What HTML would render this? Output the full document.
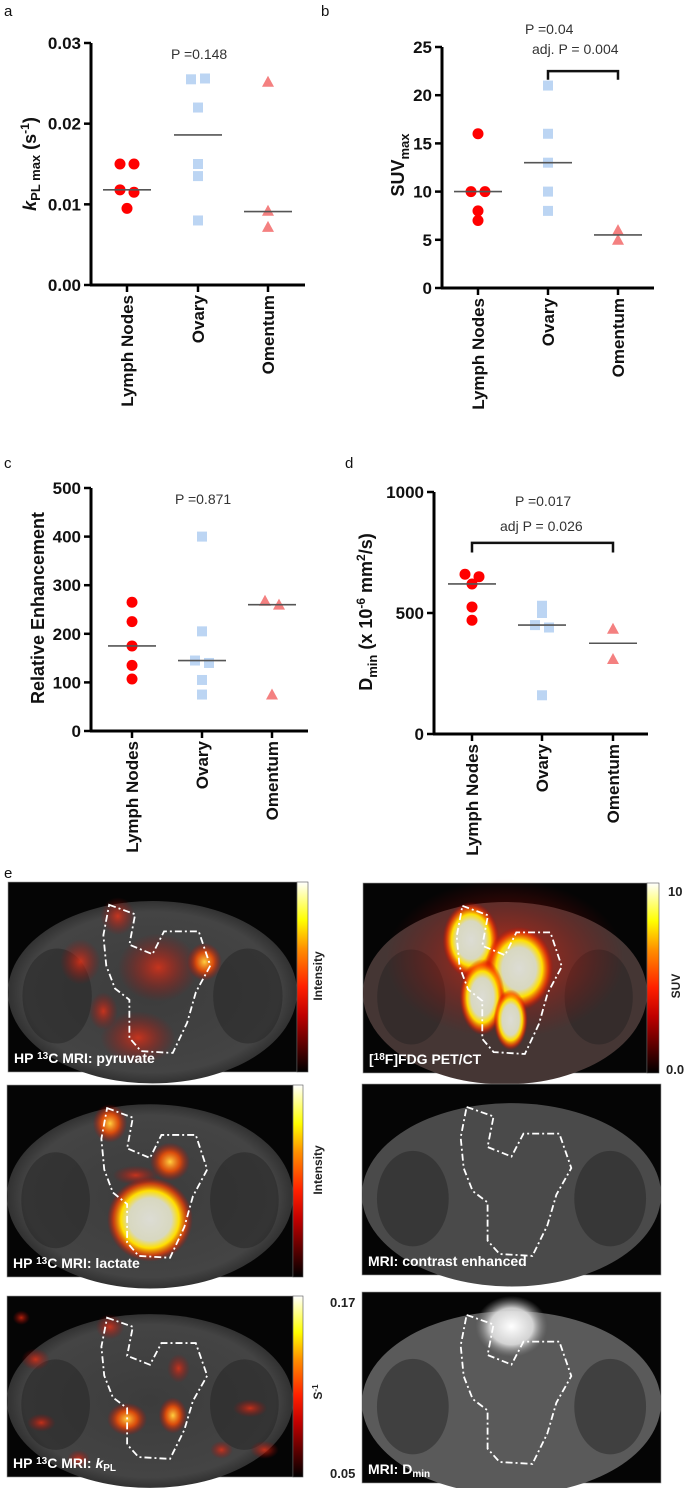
<!DOCTYPE html>
<html><head><meta charset="utf-8">
<style>
html,body{margin:0;padding:0;background:#fff;}
body{width:685px;height:1488px;overflow:hidden;position:relative;font-family:"Liberation Sans",Arial,sans-serif;}
svg{position:absolute;left:0;top:0;}
.tk{font-weight:bold;font-size:17px;fill:#111;}
.cat{font-weight:bold;font-size:17px;fill:#111;}
.pt{font-size:14px;fill:#333;}
.pl{font-size:15px;fill:#111;}
.lbl{font-weight:bold;font-size:14px;fill:#fff;}
</style></head>
<body>
<svg id="fig" width="685" height="1488" viewBox="0 0 685 1488" xmlns="http://www.w3.org/2000/svg">
<defs>
<linearGradient id="cbar" x1="0" y1="1" x2="0" y2="0">
<stop offset="0" stop-color="#000"/><stop offset="0.3" stop-color="#c00000"/><stop offset="0.45" stop-color="#ff2000"/><stop offset="0.65" stop-color="#ff9000"/><stop offset="0.8" stop-color="#ffff00"/><stop offset="1" stop-color="#ffffff"/>
</linearGradient>
<radialGradient id="hotRed"><stop offset="0" stop-color="#ff3010" stop-opacity="0.7"/><stop offset="1" stop-color="#b00000" stop-opacity="0"/></radialGradient>
<radialGradient id="hotY"><stop offset="0" stop-color="#dcdcd4"/><stop offset="0.5" stop-color="#d8d8c0"/><stop offset="0.68" stop-color="#ffe000"/><stop offset="0.85" stop-color="#ff4000" stop-opacity="0.7"/><stop offset="1" stop-color="#c00000" stop-opacity="0"/></radialGradient>
<radialGradient id="hotO"><stop offset="0" stop-color="#ffd040"/><stop offset="0.5" stop-color="#ff5000" stop-opacity="0.8"/><stop offset="1" stop-color="#c00000" stop-opacity="0"/></radialGradient>
<radialGradient id="hotW"><stop offset="0" stop-color="#ffffff"/><stop offset="0.6" stop-color="#e0e0e0" stop-opacity="0.9"/><stop offset="1" stop-color="#888" stop-opacity="0"/></radialGradient>
<radialGradient id="body" cx="0.5" cy="0.5" r="0.55"><stop offset="0" stop-color="#3c3c3c"/><stop offset="0.8" stop-color="#444"/><stop offset="1" stop-color="#222"/></radialGradient>
</defs>
<g id="charts"></g>
<g id="panels"></g>
</svg>
<script>
// ---- chart data ----
var categories = ["Lymph Nodes","Ovary","Omentum"];
var kplLymph = [0.015, 0.015, 0.0118, 0.0115, 0.0095];
var kplOvary = [0.0255, 0.0256, 0.022, 0.015, 0.0135, 0.008];
var kplOmentum = [0.0252, 0.0092, 0.0072];
var kplMedians = [0.0118, 0.0186, 0.0091];
var kplTicks = [0, 0.01, 0.02, 0.03];
var kplTickLabels = ["0.00","0.01","0.02","0.03"];
var suvLymph = [16, 10, 10, 8, 7];
var suvOvary = [21, 16, 13, 10, 8];
var suvOmentum = [6, 5];
var suvMedians = [10, 13, 5.5];
var suvTicks = [0, 5, 10, 15, 20, 25];
var relLymph = [265, 225, 175, 135, 107];
var relOvary = [400, 205, 145, 140, 105, 75];
var relOmentum = [268, 260, 75];
var relMedians = [175, 145, 260];
var relTicks = [0, 100, 200, 300, 400, 500];
var dminLymph = [660, 650, 620, 525, 470];
var dminOvary = [530, 500, 450, 440, 160];
var dminOmentum = [435, 310];
var dminMedians = [620, 450, 375];
var dminTicks = [0, 500, 1000];

var NS = "http://www.w3.org/2000/svg";
var G = document.getElementById("charts");
function mk(tag, attrs, parent, text){
  var e = document.createElementNS(NS, tag);
  for (var k in attrs) e.setAttribute(k, attrs[k]);
  if (text !== undefined) e.textContent = text;
  (parent || G).appendChild(e);
  return e;
}

function chart(c){
  var g = mk("g", {});
  
  
  var y = function(v){ return c.y0 - (v - c.min) / (c.max - c.min) * (c.y0 - c.y1); };
  var ax = mk("line", {x1:c.ax, y1:c.y1, x2:c.ax, y2:c.y0+1, stroke:"#000","stroke-width":3}, g);
  
  
  var xa = mk("line", {x1:c.ax-1, y1:c.y0, x2:c.xend, y2:c.y0, stroke:"#000","stroke-width":3}, g);
  
  
  c.ticks.forEach(function(t, i){
    var ty = y(t);
    mk("line", {x1:c.ax-7, y1:ty, x2:c.ax, y2:ty, stroke:"#000","stroke-width":2.5}, g);
    var tl = mk("text", {x:c.ax-10, y:ty+6, "text-anchor":"end", "class":"tk"}, g, c.tickLabels ? c.tickLabels[i] : String(t));
    
    
  });
  categories.forEach(function(cat, i){
    var cx = c.cx[i];
    mk("line", {x1:cx, y1:c.y0, x2:cx, y2:c.y0+7, stroke:"#000","stroke-width":2.5}, g);
    var t = mk("text", {x:0, y:0, "text-anchor":"end", "class":"cat", transform:"translate("+(cx+6)+","+(c.y0+10)+") rotate(-90)"}, g, cat);
    
    
  });
  var groups = [c.g1, c.g2, c.g3];
  var styles = ["circle","square","triangle"];
  var colors = ["#ff0000","#bcd5f3","#f48080"];
  groups.forEach(function(vals, gi){
    var cx = c.cx[gi];
    var ys = vals.map(y);
    ys.forEach(function(py, idx){
      var n = 0, total = 0;
      for (var j = 0; j < idx; j++) if (Math.abs(ys[j] - py) < 6) n++;
      for (var j2 = 0; j2 < ys.length; j2++) if (Math.abs(ys[j2] - py) < 6) total++;
      var off = total > 1 ? (n - (total - 1) / 2) * 14 : 0;
      var px = cx + off, el;
      if (styles[gi] === "circle") el = mk("circle", {cx:px, cy:py, r:5.5, fill:colors[gi]}, g);
      else if (styles[gi] === "square") el = mk("rect", {x:px-5, y:py-5, width:10, height:10, fill:colors[gi]}, g);
      else el = mk("polygon", {points:(px)+","+(py-6)+" "+(px-6)+","+(py+5)+" "+(px+6)+","+(py+5), fill:colors[gi]}, g);
      
      
    });
    var my = y(c.med[gi]);
    var ml = mk("line", {x1:cx-24, y1:my, x2:cx+24, y2:my, stroke:"#555","stroke-width":1.6}, g);
    
    
  });
  var ttl = mk("text", {x:0, y:0, "text-anchor":"middle", "font-weight":"bold", "font-size":"18", fill:"#111", transform:"translate("+c.tx+","+c.ty+") rotate(-90)"}, g);
  ttl.innerHTML = c.title;
  
  
  if (c.bracket){
    var b = c.bracket, by = y(b.v), bd = y(b.v2);
    var bp = mk("path", {d:"M"+c.cx[b.a]+","+bd+" L"+c.cx[b.a]+","+by+" L"+c.cx[b.b]+","+by+" L"+c.cx[b.b]+","+bd, fill:"none", stroke:"#111","stroke-width":2.5}, g);
    
    
  }
  c.ptexts.forEach(function(p){
    var t = mk("text", {x:p[0], y:p[1], "class":"pt"}, g, p[2]);
    
    
  });
  var pl = mk("text", {x:c.panel[0], y:c.panel[1], "class":"pl"}, g, c.panel[2]);
  
  
}

chart({name:"chart-kpl", ax:91, xend:305, y0:285, y1:43, min:0, max:0.03, cx:[127,198,268],
  ticks:kplTicks, tickLabels:kplTickLabels, g1:kplLymph, g2:kplOvary, g3:kplOmentum, med:kplMedians,
  tx:36, ty:164, title:'<tspan font-style="italic">k</tspan><tspan font-size="13" dy="4">PL max</tspan><tspan dy="-4"> (s</tspan><tspan font-size="12" dy="-7">-1</tspan><tspan dy="7">)</tspan>',
  ptexts:[[171,59,"P =0.148"]], panel:[4,16,"a"]});
chart({name:"chart-suv", ax:442, xend:654, y0:288, y1:47, min:0, max:25, cx:[478,548,618],
  ticks:suvTicks, g1:suvLymph, g2:suvOvary, g3:suvOmentum, med:suvMedians,
  tx:404, ty:165, title:'SUV<tspan font-size="13" dy="5">max</tspan>',
  bracket:{a:1,b:2,v:22.5,v2:21.6},
  ptexts:[[525,34,"P =0.04"],[532,54,"adj. P  = 0.004"]], panel:[321,16,"b"]});
chart({name:"chart-relative-enhancement", ax:91, xend:308, y0:731, y1:488, min:0, max:500, cx:[132,202,272],
  ticks:relTicks, g1:relLymph, g2:relOvary, g3:relOmentum, med:relMedians,
  tx:44, ty:608, title:'Relative Enhancement',
  ptexts:[[175,504,"P =0.871"]], panel:[4,468,"c"]});
chart({name:"chart-dmin", ax:434, xend:648, y0:734, y1:492, min:0, max:1000, cx:[472,542,613],
  ticks:dminTicks, g1:dminLymph, g2:dminOvary, g3:dminOmentum, med:dminMedians,
  tx:372, ty:612, title:'D<tspan font-size="13" dy="5">min</tspan><tspan dy="-5"> (x 10</tspan><tspan font-size="12" dy="-7">-6</tspan><tspan dy="7"> mm</tspan><tspan font-size="12" dy="-7">2</tspan><tspan dy="7">/s)</tspan>',
  bracket:{a:0,b:2,v:790,v2:750},
  ptexts:[[515,506,"P =0.017"],[500,531,"adj P  = 0.026"]], panel:[345,468,"d"]});

// ---- image panels ----
var P = document.getElementById("panels");
var el = mk("text", {x:4, y:878, "class":"pl"}, P, "e");


var contour = "M0.35,0.12 L0.44,0.17 L0.42,0.33 L0.50,0.38 L0.54,0.26 L0.66,0.26 L0.70,0.44 L0.65,0.58 L0.62,0.74 L0.57,0.90 L0.46,0.89 L0.42,0.82 L0.42,0.62 L0.37,0.56 L0.34,0.44 L0.33,0.28 Z";
function panel(name, x, y, w, h, label, blobs, tone){
  var g = mk("g", {}, P);
  
  
  mk("rect", {x:x, y:y, width:w, height:h, fill:"#050505", stroke:"#999","stroke-width":0.6}, g);
  mk("ellipse", {cx:x+w*0.5, cy:y+h*0.58, rx:w*0.5, ry:h*0.48, fill:tone||"url(#body)"}, g);
  mk("ellipse", {cx:x+w*0.17, cy:y+h*0.6, rx:w*0.12, ry:h*0.25, fill:"#222", opacity:0.45}, g);
  mk("ellipse", {cx:x+w*0.83, cy:y+h*0.6, rx:w*0.12, ry:h*0.25, fill:"#222", opacity:0.45}, g);
  blobs.forEach(function(b){
    mk("ellipse", {cx:x+w*b[0], cy:y+h*b[1], rx:w*b[2], ry:h*b[3], fill:"url(#"+b[4]+")"}, g);
  });
  var c = mk("path", {d:contour, fill:"none", stroke:"#fff","stroke-width":1.8,"stroke-dasharray":"7,3,2,3","vector-effect":"non-scaling-stroke", transform:"translate("+x+","+y+") scale("+w+","+h+")"}, g);
  
  
  var t = mk("text", {x:x+6, y:y+h-9, "class":"lbl"}, g);
  t.innerHTML = label;
  
  
}
function cbar(x, y, w, h){
  var r = mk("rect", {x:x, y:y, width:w, height:h, fill:"url(#cbar)", stroke:"#555","stroke-width":0.6}, P);
  
  
}
function rtext(x, y, s, name){
  var t = mk("text", {x:0, y:0, "text-anchor":"middle", "font-weight":"bold", "font-size":"12", fill:"#222", transform:"translate("+x+","+y+") rotate(-90)"}, P);
  t.innerHTML = s;
  
  
}
function ntext(x, y, s, name){
  var t = mk("text", {x:x, y:y, "font-weight":"bold", "font-size":"13", fill:"#222"}, P, s);
  
  
}
panel("pyruvate-image", 8, 882, 289, 190, 'HP <tspan font-size="10" dy="-4">13</tspan><tspan dy="4">C MRI: pyruvate</tspan>',
  [[0.25,0.42,0.07,0.12,"hotRed"],[0.68,0.42,0.06,0.1,"hotO"],[0.52,0.45,0.14,0.18,"hotRed"],[0.45,0.82,0.13,0.14,"hotRed"],[0.33,0.68,0.05,0.1,"hotRed"],[0.38,0.18,0.06,0.1,"hotRed"]]);
cbar(297, 882, 11, 190);
rtext(322, 976, "Intensity", "colorbar-title");
panel("lactate-image", 7, 1085, 286, 192, 'HP <tspan font-size="10" dy="-4">13</tspan><tspan dy="4">C MRI: lactate</tspan>',
  [[0.36,0.2,0.06,0.1,"hotO"],[0.5,0.7,0.15,0.22,"hotY"],[0.57,0.4,0.07,0.1,"hotO"],[0.45,0.47,0.08,0.05,"hotRed"]]);
cbar(293, 1085, 10, 192);
rtext(322, 1170, "Intensity", "colorbar-title");
panel("kpl-image", 7, 1296, 286, 181, 'HP <tspan font-size="10" dy="-4">13</tspan><tspan dy="4">C MRI: </tspan><tspan font-style="italic">k</tspan><tspan font-size="10" dy="3">PL</tspan>',
  [[0.42,0.68,0.07,0.09,"hotO"],[0.58,0.66,0.05,0.1,"hotO"],[0.36,0.17,0.05,0.07,"hotRed"],[0.1,0.35,0.05,0.06,"hotRed"],[0.12,0.7,0.05,0.05,"hotRed"],[0.85,0.62,0.06,0.05,"hotRed"],[0.9,0.85,0.05,0.05,"hotRed"],[0.05,0.12,0.03,0.04,"hotRed"],[0.6,0.4,0.04,0.08,"hotRed"],[0.25,0.9,0.04,0.05,"hotRed"],[0.75,0.85,0.04,0.05,"hotRed"]]);
cbar(293, 1296, 10, 181);
ntext(330, 1307, "0.17", "colorbar-max");
ntext(330, 1478, "0.05", "colorbar-min");
rtext(322, 1392, 'S<tspan font-size="8" dy="-4">-1</tspan>', "colorbar-title");
panel("pet-ct-image", 363, 883, 284, 190, '[<tspan font-size="10" dy="-4">18</tspan><tspan dy="4">F]FDG PET/CT</tspan>',
  [[0.5,0.4,0.42,0.42,"hotRed"],[0.38,0.3,0.1,0.2,"hotY"],[0.55,0.45,0.12,0.22,"hotY"],[0.42,0.6,0.08,0.2,"hotY"],[0.52,0.72,0.06,0.16,"hotY"]], "#453634");
cbar(647, 883, 12, 190);
ntext(668, 896, "10", "colorbar-max");
ntext(666, 1074, "0.0", "colorbar-min");
rtext(680, 986, "SUV", "colorbar-title");
panel("contrast-enhanced-mri", 362, 1084, 299, 191, 'MRI:  contrast enhanced', [], "#4a4a4a");
panel("dmin-mri", 362, 1292, 299, 191, 'MRI:  D<tspan font-size="10" dy="3">min</tspan>', [[0.5,0.18,0.12,0.16,"hotW"]], "#5a5a5a");
</script>
</body></html>
